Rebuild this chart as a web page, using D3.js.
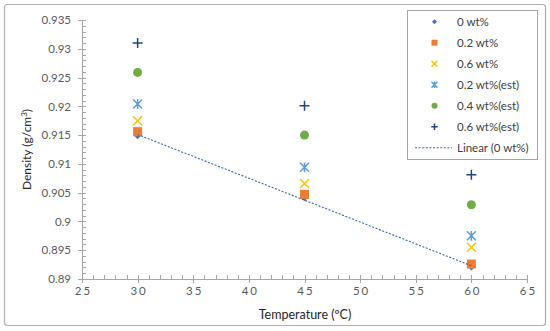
<!DOCTYPE html>
<html><head><meta charset="utf-8">
<script src="https://cdn.jsdelivr.net/npm/d3@7"></script>
<style>body{margin:0;background:#fff}svg{display:block}</style>
</head><body><svg id="c" width="550" height="331"></svg>
<script>
const temps = [30, 45, 60];
const d0 = [0.9149, 0.9041, 0.8921];
const d02 = [0.9156, 0.9047, 0.8926];
const d06 = [0.9175, 0.9066, 0.8955];
const d02est = [0.9204, 0.9094, 0.8975];
const d04est = [0.9259, 0.9150, 0.9029];
const d06est = [0.9310, 0.9201, 0.9081];
const seriesNames = ["0 wt%", "0.2 wt%", "0.6 wt%", "0.2 wt%(est)", "0.4 wt%(est)", "0.6 wt%(est)"];
const trendName = "Linear (0 wt%)";
const xTicks = [25, 30, 35, 40, 45, 50, 55, 60, 65];
const yTicks = [0.89, 0.895, 0.9, 0.905, 0.91, 0.915, 0.92, 0.925, 0.93, 0.935];

const svg = d3.select("#c");
const font = "Lato, 'Open Sans', sans-serif";
const L = 82, R = 527, T = 20, B = 279;
const x = d3.scaleLinear().domain([25, 65]).range([L, R]);
const y = d3.scaleLinear().domain([0.89, 0.935]).range([B, T]);

svg.append("rect").attr("x", 4.5).attr("y", 4.5).attr("width", 541).attr("height", 321)
  .attr("rx", 3).attr("fill", "#fff").attr("stroke", "#b0b0b0").attr("stroke-width", 1.2);

const axisCol = "#a6a6a6";
const gA = svg.append("g");
d3.range(25, 65.01, 1).forEach(v => {
  const px = Math.round(x(v)) + 0.5;
  const major = Math.abs(v % 5) < 1e-9;
  gA.append("line").attr("x1", px).attr("x2", px).attr("y1", B - 4).attr("y2", major ? B + 4 : B)
    .attr("stroke", axisCol);
});
d3.range(0, 46).forEach(i => {
  const v = 0.89 + i * 0.001;
  const py = Math.round(y(v)) + 0.5;
  const major = i % 5 === 0;
  gA.append("line").attr("x1", major ? L - 4 : L).attr("x2", L + 4).attr("y1", py).attr("y2", py)
    .attr("stroke", axisCol);
});
gA.append("line").attr("x1", L + 0.5).attr("x2", L + 0.5).attr("y1", T).attr("y2", B).attr("stroke", axisCol);
gA.append("line").attr("x1", L).attr("x2", R + 0.5).attr("y1", B + 0.5).attr("y2", B + 0.5).attr("stroke", axisCol);

const xa = svg.append("g").attr("transform", `translate(0,${B})`)
  .call(d3.axisBottom(x).tickValues(xTicks).tickSize(0).tickPadding(8).tickFormat(d3.format("d")));
xa.select(".domain").remove();
xa.selectAll("text").attr("font-family", font).attr("font-size", 11.5).attr("fill", "#595959")
  .attr("letter-spacing", "2px").attr("dx", "1px");
const ya = svg.append("g").attr("transform", `translate(${L},0)`)
  .call(d3.axisLeft(y).tickValues(yTicks).tickSize(0).tickPadding(11).tickFormat(d => String(+d.toFixed(3))));
ya.select(".domain").remove();
ya.selectAll("text").attr("font-family", font).attr("font-size", 11.5).attr("fill", "#595959");

svg.append("text").attr("x", 305).attr("y", 319).attr("text-anchor", "middle")
  .attr("font-family", font).attr("font-size", 12.5).attr("fill", "#262626").text("Temperature (ºC)");
svg.append("text").attr("transform", `translate(31,${(T + B) / 2}) rotate(-90)`).attr("text-anchor", "middle")
  .attr("font-family", font).attr("font-size", 12).attr("fill", "#262626")
  .html("Density (g/cm<tspan dy='-4' font-size='8'>3</tspan><tspan dy='4'>)</tspan>");

const mx = d3.mean(temps), my = d3.mean(d0);
const slope = d3.sum(temps, (t, i) => (t - mx) * (d0[i] - my)) / d3.sum(temps, t => (t - mx) ** 2);
const icpt = my - slope * mx;
const trend = [30, 60].map(t => [t, icpt + slope * t]);

const colors = ["#4472C4", "#ED7D31", "#FFC000", "#5B9BD5", "#70AD47", "#264478"];
function marker(g, k, cx, cy, s) {
  const c = colors[k];
  if (k === 0) {
    g.append("path").attr("d", `M${cx},${cy - s}L${cx + s},${cy}L${cx},${cy + s}L${cx - s},${cy}Z`).attr("fill", c);
  } else if (k === 1) {
    g.append("rect").attr("x", cx - s).attr("y", cy - s).attr("width", 2 * s).attr("height", 2 * s).attr("fill", c);
  } else if (k === 2) {
    g.append("path").attr("d", `M${cx - s},${cy - s}L${cx + s},${cy + s}M${cx - s},${cy + s}L${cx + s},${cy - s}`)
      .attr("stroke", c).attr("stroke-width", 1.5).attr("fill", "none");
  } else if (k === 3) {
    g.append("path").attr("d", `M${cx - s},${cy - s}L${cx + s},${cy + s}M${cx - s},${cy + s}L${cx + s},${cy - s}M${cx},${cy - s * 1.1}L${cx},${cy + s * 1.1}`)
      .attr("stroke", c).attr("stroke-width", 1.5).attr("fill", "none");
  } else if (k === 4) {
    g.append("circle").attr("cx", cx).attr("cy", cy).attr("r", s).attr("fill", c);
  } else {
    g.append("path").attr("d", `M${cx - s},${cy}L${cx + s},${cy}M${cx},${cy - s}L${cx},${cy + s}`)
      .attr("stroke", c).attr("stroke-width", 1.5).attr("fill", "none");
  }
}
const allSeries = [d0, d02, d06, d02est, d04est, d06est];
const sizes = [3.5, 4.5, 4.5, 4.5, 4.5, 5];
const gM = svg.append("g");
allSeries.forEach((arr, k) => {
  arr.forEach((v, i) => marker(gM, k, x(temps[i]), y(v), sizes[k]));
});
svg.append("path").attr("d", d3.line().x(d => x(d[0])).y(d => y(d[1]))(trend))
  .attr("fill", "none").attr("stroke", "#3A63A8").attr("stroke-width", 1.1).attr("stroke-dasharray", "2,1.6");

const lg = svg.append("g");
lg.append("rect").attr("x", 407.5).attr("y", 10.5).attr("width", 130).attr("height", 149)
  .attr("fill", "#fff").attr("stroke", "#a6a6a6");
const lsz = [2.5, 3, 3, 3, 3, 3.2];
seriesNames.forEach((n, k) => {
  const cy = 21.7 + k * 21;
  marker(lg, k, 434.5, cy, lsz[k]);
  lg.append("text").attr("x", 457).attr("y", cy + 4).attr("font-family", font).attr("font-size", 11.5)
    .attr("fill", "#404040").text(n);
});
const ty = 21.7 + 6 * 21;
lg.append("line").attr("x1", 415).attr("x2", 452).attr("y1", ty).attr("y2", ty)
  .attr("stroke", "#3A63A8").attr("stroke-width", 1.1).attr("stroke-dasharray", "2,1.6");
lg.append("text").attr("x", 457).attr("y", ty + 4).attr("font-family", font).attr("font-size", 11.5)
  .attr("fill", "#404040").text(trendName);
</script></body></html>
